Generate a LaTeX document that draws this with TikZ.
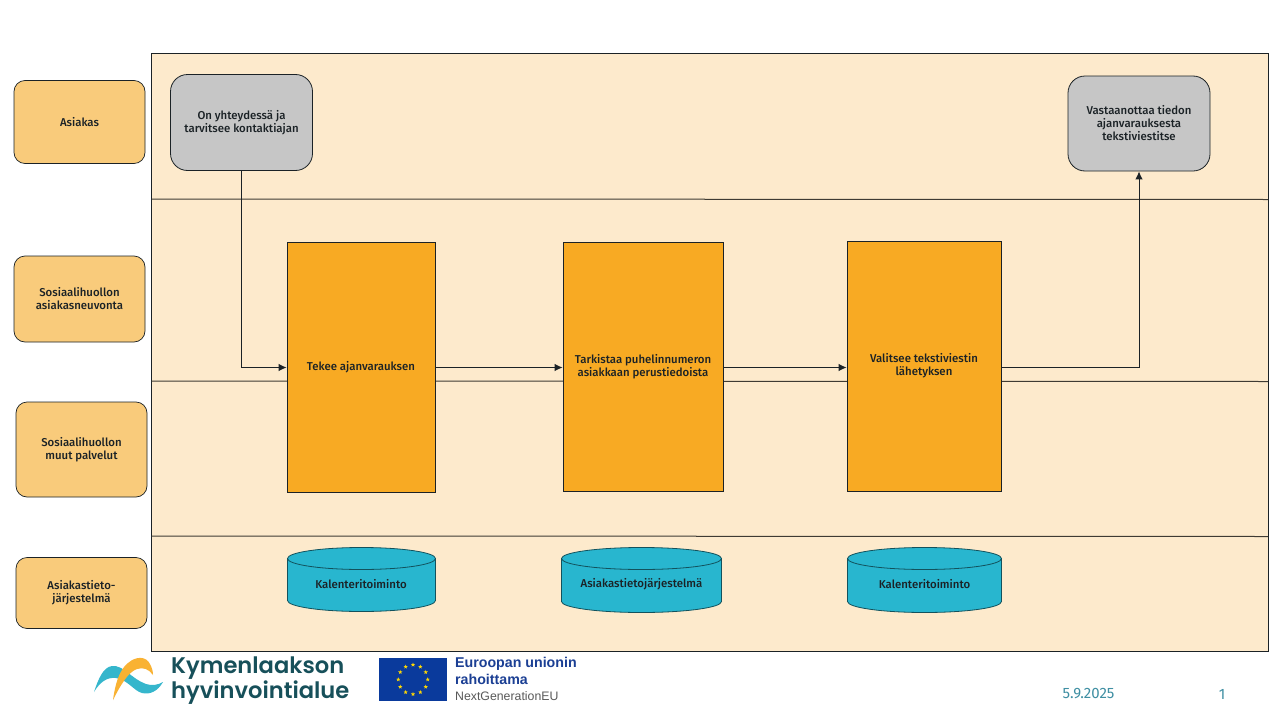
\documentclass[tikz,border=0pt]{standalone}
\usepackage{fontspec}
\setmainfont{Fira Sans}[BoldFont={Fira Sans Medium}]
\newfontfamily\logofont{Poppins SemiBold}
\newfontfamily\eufont{Liberation Sans}
\usetikzlibrary{arrows.meta,shapes.geometric}
\definecolor{lane}{HTML}{FDEACC}
\definecolor{role}{HTML}{F9CB7B}
\definecolor{grayb}{HTML}{C6C6C6}
\definecolor{orangeb}{HTML}{F8AA23}
\definecolor{tealb}{HTML}{28B6CF}
\definecolor{ink}{HTML}{1B2226}
\definecolor{logot}{HTML}{17505A}
\definecolor{logoy}{HTML}{F9B233}
\definecolor{logob}{HTML}{35B6CC}
\definecolor{eub}{HTML}{0A3A9C}
\definecolor{eut}{HTML}{1B3F94}
\definecolor{datec}{HTML}{3F8FA3}
\tikzset{
  txt/.style={font=\fontsize{11.4}{13}\selectfont\bfseries,text=ink,align=center,inner sep=0pt},
  rolebox/.style={txt,draw=ink,line width=.7pt,fill=role,rounded corners=11pt,minimum width=131pt},
  graybox/.style={txt,draw=ink,line width=.8pt,fill=grayb,rounded corners=17pt,minimum width=142pt},
  procbox/.style={txt,draw=ink,line width=.8pt,fill=orangeb},
  conn/.style={draw=ink,line width=1pt,-{Latex[length=8pt,width=7.5pt]}},
  lanel/.style={draw=black!75!lane,line width=1pt},
  cyl/.style={draw=black!55!tealb,line width=.8pt,fill=tealb},
  lbl/.style={txt}
}
\newcommand{\dbcyl}[4]{% x left, x right, y top, y bottom
  \pgfmathsetmacro{\rx}{(#2-#1)/2}
  \path[cyl] (#1,#3+11) -- (#1,#4-11) arc[start angle=180,end angle=360,x radius=\rx pt,y radius=11pt] -- (#2,#3+11) arc[start angle=0,end angle=180,x radius=\rx pt,y radius=11pt] -- cycle;
  \path[cyl,fill=none] (#1,#3+11) arc[start angle=180,end angle=360,x radius=\rx pt,y radius=11pt];
}
\begin{document}
\begin{tikzpicture}[x=1pt,y=-1pt]
\useasboundingbox (0,0) rectangle (1280,720);
\fill[white] (0,0) rectangle (1280,720);
% lanes
\path[draw=ink,line width=.9pt,fill=lane] (151.5,53) rectangle (1268,651.5);
\draw[lanel] (151.5,199) -- (1268,199.5);
\draw[lanel] (151.5,381) -- (1268,381.5);
\draw[lanel] (151.5,536) -- (1268,536.5);
% role boxes
\node[rolebox,minimum height=83pt] (r1) at (79.5,122) {Asiakas};
\node[rolebox,minimum height=86pt] (r2) at (79.5,299) {Sosiaalihuollon\\asiakasneuvonta};
\node[rolebox,minimum height=95pt] (r3) at (81.5,449.5) {Sosiaalihuollon\\muut palvelut};
\node[rolebox,minimum height=71pt] (r4) at (81.5,593) {Asiakastieto-\\järjestelmä};
% gray boxes
\node[graybox,minimum height=96pt] (a) at (241.5,122.5) {On yhteydessä ja\\tarvitsee kontaktiajan};
\node[graybox,minimum height=95pt] (v) at (1139,123.5) {Vastaanottaa tiedon\\ajanvarauksesta\\tekstiviestitse};
% process boxes
\node[procbox,minimum width=148pt,minimum height=250pt] (p1) at (361,367.5) {Tekee ajanvarauksen};
\node[procbox,minimum width=160pt,minimum height=249pt] (p2) at (643,366.5) {Tarkistaa puhelinnumeron\\asiakkaan perustiedoista};
\node[procbox,minimum width=154pt,minimum height=250pt] (p3) at (924,366) {Valitsee tekstiviestin\\lähetyksen};
% connectors
\draw[conn] (a.south) |- (p1.west);
\draw[conn] (p1.east) -- (p2.west |- p1.east);
\draw[conn] (p2.east |- p1.east) -- (p3.west |- p1.east);
\draw[conn] (p3.east |- p1.east) -| (v.south);
% databases
\dbcyl{287.5}{435.5}{547.5}{611.5}
\node[lbl] (c1) at (361,584) {Kalenteritoiminto};
\dbcyl{561.5}{721.5}{547.5}{612.5}
\node[lbl] (c2) at (641.5,584) {Asiakastietojärjestelmä};
\dbcyl{847.5}{1001.5}{547.5}{612.5}
\node[lbl] (c3) at (924.5,584) {Kalenteritoiminto};
% logo
\fill[logob] (94,692) .. controls (98,680) and (103,667) .. (112,666) .. controls (124,665) and (130,678) .. (146,684) .. controls (152,686) and (158,685) .. (163,682) .. controls (158,691) and (150,695) .. (142,693) .. controls (134,691) and (128,680) .. (116,678) .. controls (107,677) and (100,682) .. (94,692) -- cycle;
\fill[logoy] (113,700) .. controls (115,685) and (119,670) .. (128,663) .. controls (136,656) and (146,656) .. (150,664) .. controls (152,668) and (153,671) .. (153,675) .. controls (149,669) and (143,667) .. (137,669) .. controls (128,672) and (120,686) .. (113,700) -- cycle;
\node[anchor=west,font=\logofont\fontsize{22.6}{23}\selectfont,text=logot,inner sep=0pt,align=left] (lg) at (171,680.5) {Kymenlaakson\\hyvinvointialue};
% EU flag
\path[fill=eub] (379,657.5) rectangle (447,700.5);
\coordinate (euc) at (413,679.5);
\foreach \k in {0,30,...,330}
  \node[star,star points=5,star point ratio=2.4,fill=yellow!75!orange,inner sep=0pt,minimum size=4.5pt] (st\k) at ([shift={(\k:14.7pt)}]euc) {};
\node[anchor=west,font=\eufont\fontsize{14.2}{16.5}\selectfont\bfseries,text=eut,inner sep=0pt,align=left] (eu1) at (455,671) {Euroopan unionin\\rahoittama};
\node[anchor=west,font=\eufont\fontsize{12.3}{13}\selectfont,text=black!65,inner sep=0pt] (eu2) at (455,696.5) {NextGenerationEU};
\node[font=\fontsize{15}{16}\selectfont,text=datec,inner sep=0pt] (d) at (1088.5,694) {5.9.2025};
\node[font=\fontsize{15}{16}\selectfont,text=datec,inner sep=0pt] (n) at (1222,694) {1};
\end{tikzpicture}
\end{document}
